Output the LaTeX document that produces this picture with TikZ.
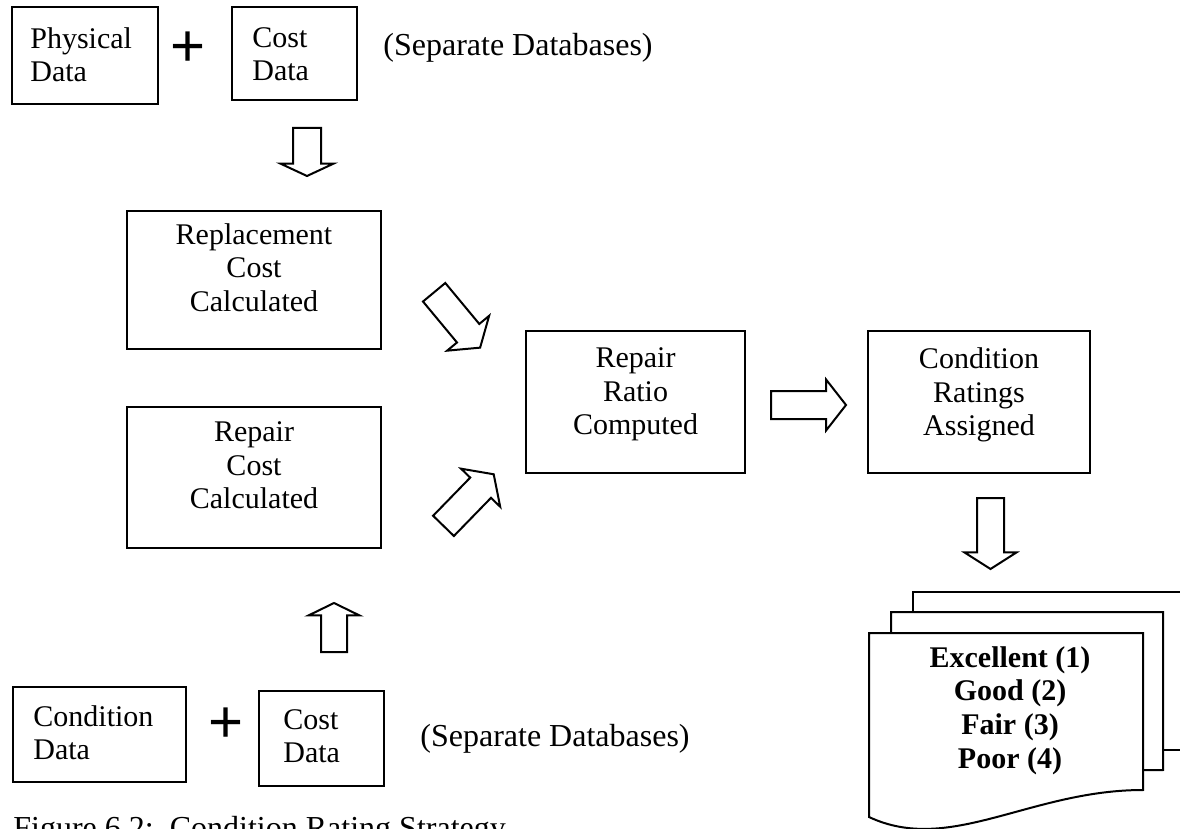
\documentclass[tikz,border=0pt]{standalone}
\usepackage{fontspec}
\setmainfont{Liberation Serif}
\newfontfamily\plusfont{Liberation Sans}
\usetikzlibrary{shapes.arrows}
\begin{document}
\begin{tikzpicture}[x=0.5pt,y=-0.5pt,
  box/.style={draw, line width=1pt, rectangle, inner sep=0pt, fill=white},
  txt/.style={inner sep=0pt, font=\fontsize{15pt}{16.75pt}\selectfont},
  bigtxt/.style={inner sep=0pt, font=\fontsize{16pt}{18pt}\selectfont},
  ctxt/.style={txt, align=center, anchor=north},
  ltxt/.style={txt, align=left, anchor=north west},
  plussign/.style={inner sep=0pt, font=\fontsize{30pt}{30pt}\plusfont},
  barrow/.style={draw, line width=1pt, fill=white, single arrow, inner sep=0pt, anchor=tail},
  page/.style={draw, line width=1pt, fill=white, line join=miter}
]
\useasboundingbox (0,0) rectangle (1180,829);
\clip (0,0) rectangle (1180,829);

% top row
\node[box, minimum width=73pt, minimum height=48.5pt] (phys) at (85,55.5) {};
\node[ltxt] (physT) at (30,27) {Physical\\Data};
\node[plussign] (plus1) at (188,49) {+};
\node[box, minimum width=62.5pt, minimum height=46.5pt] (cost1) at (294.5,53.5) {};
\node[ltxt] (cost1T) at (252,27) {Cost\\Data};
\node[bigtxt, anchor=base west] (sep1) at (383,56) {(Separate Databases)};

% middle boxes
\node[box, minimum width=127pt, minimum height=69pt] (repl) at (254,280) {};
\node[ctxt] (replT) at (254,223) {Replacement\\Cost\\Calculated};
\node[box, minimum width=127pt, minimum height=70.5pt] (repc) at (254,477.5) {};
\node[ctxt] (repcT) at (254,421.5) {Repair\\Cost\\Calculated};
\node[box, minimum width=109.5pt, minimum height=71pt] (ratio) at (635.5,402) {};
\node[ctxt] (ratioT) at (635.5,347.5) {Repair\\Ratio\\Computed};
\node[box, minimum width=111pt, minimum height=71pt] (crate) at (979,402) {};
\node[ctxt] (crateT) at (979,347.5) {Condition\\Ratings\\Assigned};

% bottom row
\node[box, minimum width=86.5pt, minimum height=47.5pt] (cdat) at (99.5,734.5) {};
\node[ltxt] (cdatT) at (33,705) {Condition\\Data};
\node[plussign] (plus2) at (226,725) {+};
\node[box, minimum width=62.5pt, minimum height=47.5pt] (cost2) at (321.5,738.5) {};
\node[ltxt] (cost2T) at (283,709) {Cost\\Data};
\node[bigtxt, anchor=base west] (sep2) at (420,746) {(Separate Databases)};

% block arrows
\node[barrow, rotate=-90, inner ysep=6.5pt, minimum height=24pt,
      single arrow head extend=6.25pt, single arrow tip angle=130] (a1) at (307,127) {};
\node[barrow, rotate=-50.3, inner ysep=6.75pt, minimum height=36pt,
      single arrow head extend=6.4pt, single arrow tip angle=111] (a2) at (433.5,291.5) {};
\node[barrow, rotate=45.8, inner ysep=6.75pt, minimum height=36pt,
      single arrow head extend=6.4pt, single arrow tip angle=111] (a3) at (442.8,526.6) {};
\node[barrow, rotate=0, inner ysep=6.5pt, minimum height=37.5pt,
      single arrow head extend=5.75pt, single arrow tip angle=104] (a4) at (770,405) {};
\node[barrow, rotate=-90, inner ysep=6.25pt, minimum height=35.5pt,
      single arrow head extend=6.25pt, single arrow tip angle=115] (a5) at (990.5,497) {};
\node[barrow, rotate=90, inner ysep=6pt, minimum height=24.5pt,
      single arrow head extend=6.25pt, single arrow tip angle=128] (a6) at (334,653) {};

% document stack
\draw[page] (913,750) -- (913,592) -- (1190,592) -- (1190,750) -- cycle;
\draw[page] (891,772) -- (891,612) -- (1163,612) -- (1163,770) -- cycle;
\draw[page] (869,817) -- (869,633) -- (1143,633) -- (1143,790)
   .. controls (1030,790) and (950,855) .. (869,817) -- cycle;
\node[ctxt, font=\fontsize{15pt}{16.8pt}\selectfont\bfseries] (ratings) at (1010,646)
   {Excellent (1)\\Good (2)\\Fair (3)\\Poor (4)};

% caption
\node[bigtxt, anchor=base west] (caption) at (13,838) {Figure 6.2:\ \ Condition Rating Strategy};
\end{tikzpicture}
\end{document}
